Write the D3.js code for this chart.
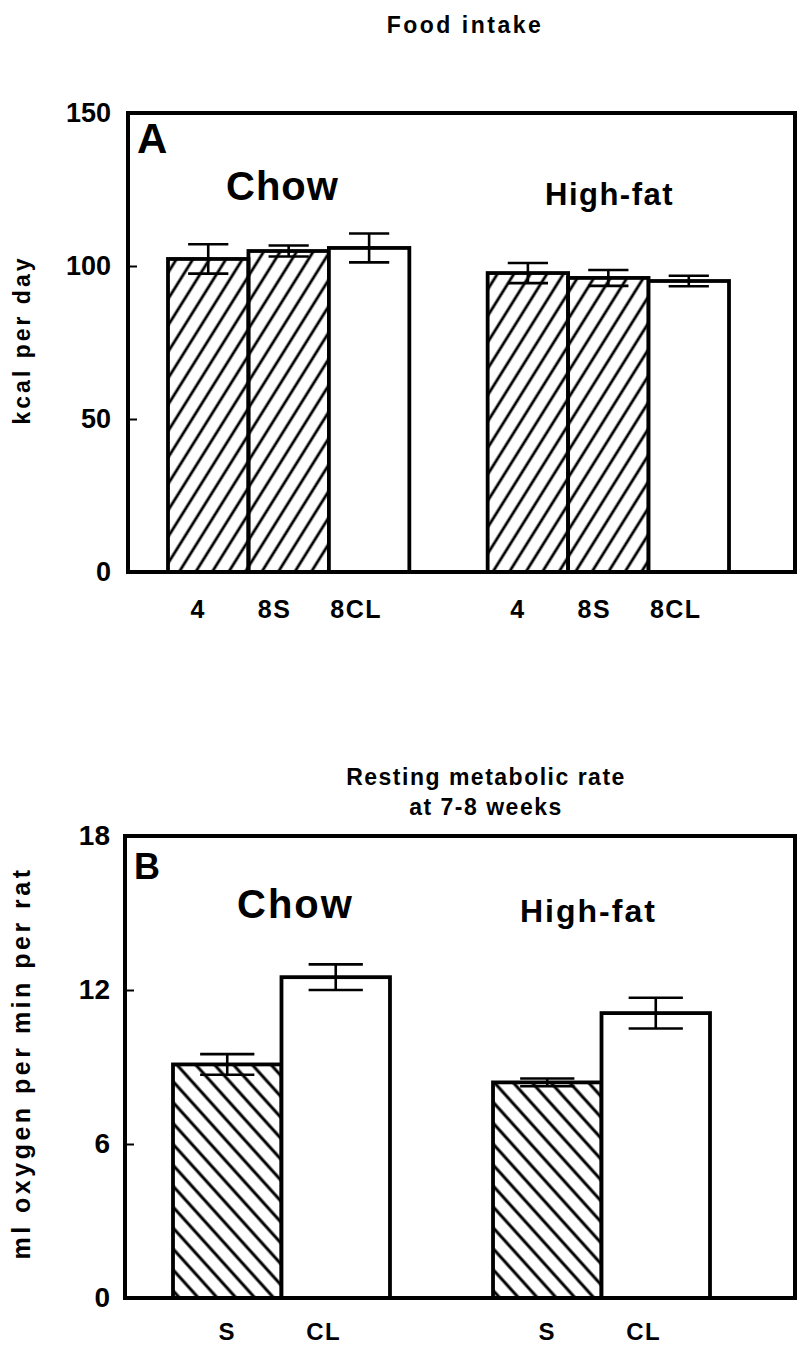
<!DOCTYPE html>
<html>
<head>
<meta charset="utf-8">
<script src="https://cdn.jsdelivr.net/npm/d3@7"></script>
<style>
  body { margin: 0; background: #fff; }
  text { font-family: "Liberation Sans", Arial, sans-serif; font-weight: bold; fill: #000; }
</style>
</head>
<body>
<div id="chart"></div>
<script>
// Panel A: food intake (kcal per day)
const foodGroups = ["Chow", "High-fat"];
const foodCats = ["4", "8S", "8CL"];
const foodChow = [102.3, 104.9, 105.9];
const foodChowErr = [4.8, 1.8, 4.7];
const foodHF = [97.7, 96.1, 95.1];
const foodHFErr = [3.3, 2.6, 1.7];
const foodHatched = [true, true, false];
const foodTicks = [0, 50, 100, 150];

// Panel B: resting metabolic rate (ml oxygen per min per rat)
const rmrGroups = ["Chow", "High-fat"];
const rmrCats = ["S", "CL"];
const rmrChow = [9.1, 12.5];
const rmrChowErr = [0.4, 0.5];
const rmrHF = [8.4, 11.1];
const rmrHFErr = [0.15, 0.6];
const rmrHatched = [true, false];
const rmrTicks = [0, 6, 12, 18];

const W = 801, H = 1349;

const svg = d3.select("#chart")
    .append("svg")
    .attr("width", W)
    .attr("height", H);

// hatch patterns
const defs = svg.append("defs");
defs.append("pattern")
    .attr("id", "hatchA")
    .attr("patternUnits", "userSpaceOnUse")
    .attr("width", 14).attr("height", 14)
    .attr("patternTransform", "rotate(32)")
    .append("line")
    .attr("x1", 7).attr("y1", -2).attr("x2", 7).attr("y2", 16)
    .attr("stroke", "#000").attr("stroke-width", 2.8);
defs.append("pattern")
    .attr("id", "hatchB")
    .attr("patternUnits", "userSpaceOnUse")
    .attr("width", 14).attr("height", 14)
    .attr("patternTransform", "rotate(-42)")
    .append("line")
    .attr("x1", 7).attr("y1", -2).attr("x2", 7).attr("y2", 16)
    .attr("stroke", "#000").attr("stroke-width", 3);

function drawPanel(cfg) {
    const g = svg.append("g");

    const y = d3.scaleLinear()
        .domain([cfg.ticks[0], cfg.ticks[cfg.ticks.length - 1]])
        .range([cfg.bottom, cfg.top]);

    const x0 = d3.scaleBand()
        .domain(cfg.groups)
        .range(cfg.barRange)
        .paddingInner(cfg.gap)
        .paddingOuter(0);

    const x1 = d3.scaleBand()
        .domain(cfg.cats)
        .range([0, x0.bandwidth()]);

    const rows = [];
    cfg.groups.forEach((grp, gi) => {
        cfg.cats.forEach((c, ci) => {
            rows.push({ group: grp, cat: c, v: cfg.means[gi][ci], e: cfg.errs[gi][ci], hatched: cfg.hatched[ci] });
        });
    });

    // bars
    g.selectAll("rect.bar")
        .data(rows)
        .join("rect")
        .attr("class", "bar")
        .attr("x", d => x0(d.group) + x1(d.cat))
        .attr("y", d => y(d.v))
        .attr("width", x1.bandwidth())
        .attr("height", d => y(0) - y(d.v))
        .attr("fill", d => d.hatched ? `url(#${cfg.pattern})` : "#fff")
        .attr("stroke", "#000")
        .attr("stroke-width", 3.8);

    // error bars
    const capW = x1.bandwidth() / 2;
    const eb = g.selectAll("g.err")
        .data(rows)
        .join("g")
        .attr("class", "err")
        .attr("transform", d => `translate(${x0(d.group) + x1(d.cat) + x1.bandwidth() / 2},0)`);
    eb.append("line")
        .attr("y1", d => y(d.v - d.e)).attr("y2", d => y(d.v + d.e))
        .attr("stroke", "#000").attr("stroke-width", 2.6);
    eb.append("line")
        .attr("x1", -capW / 2).attr("x2", capW / 2)
        .attr("y1", d => y(d.v + d.e)).attr("y2", d => y(d.v + d.e))
        .attr("stroke", "#000").attr("stroke-width", 2.6);
    eb.append("line")
        .attr("x1", -capW / 2).attr("x2", capW / 2)
        .attr("y1", d => y(d.v - d.e)).attr("y2", d => y(d.v - d.e))
        .attr("stroke", "#000").attr("stroke-width", 2.6);

    // frame
    g.append("rect")
        .attr("x", cfg.left).attr("y", cfg.top)
        .attr("width", cfg.right - cfg.left)
        .attr("height", cfg.bottom - cfg.top)
        .attr("fill", "none")
        .attr("stroke", "#000")
        .attr("stroke-width", 4);

    // y axis
    const ax = g.append("g")
        .attr("transform", `translate(${cfg.left},0)`)
        .call(d3.axisLeft(y).tickValues(cfg.ticks).tickSize(-9).tickPadding(cfg.tickPad));
    ax.select(".domain").remove();
    ax.selectAll(".tick line").attr("stroke", "#000").attr("stroke-width", 2);
    ax.selectAll(".tick text")
        .attr("fill", "#000")
        .style("font-size", cfg.tickFont + "px")
        .style("font-family", '"Liberation Sans", Arial, sans-serif')
        .style("font-weight", "bold");

    // category labels
    g.selectAll("text.cat")
        .data(rows)
        .join("text")
        .attr("class", "cat")
        .attr("x", d => x0(d.group) + x1(d.cat) + x1.bandwidth() / 2 + cfg.catShift[cfg.cats.indexOf(d.cat)])
        .attr("y", cfg.catY)
        .attr("text-anchor", "middle")
        .style("font-size", cfg.catFont + "px")
        .style("letter-spacing", "1.5px")
        .text(d => d.cat);

    // group labels
    cfg.groupLabels.forEach(l => {
        g.append("text")
            .attr("x", l.x).attr("y", l.y)
            .style("font-size", l.size + "px")
            .style("letter-spacing", l.ls + "px")
            .text(l.text);
    });

    // panel letter
    g.append("text")
        .attr("x", cfg.letter.x).attr("y", cfg.letter.y)
        .style("font-size", cfg.letter.size + "px")
        .text(cfg.letter.text);

    // y axis title
    g.append("text")
        .attr("transform", `translate(${cfg.yTitle.x},${cfg.yTitle.y}) rotate(-90)`)
        .attr("text-anchor", "middle")
        .style("font-size", cfg.yTitle.size + "px")
        .style("letter-spacing", cfg.yTitle.ls + "px")
        .text(cfg.yTitle.text);

    // panel title lines
    cfg.title.lines.forEach((t, i) => {
        g.append("text")
            .attr("x", cfg.title.x)
            .attr("y", cfg.title.y + i * 30)
            .attr("text-anchor", "middle")
            .style("font-size", cfg.title.size + "px")
            .style("letter-spacing", cfg.title.ls + "px")
            .text(t);
    });
}

drawPanel({
    groups: foodGroups, cats: foodCats,
    means: [foodChow, foodHF], errs: [foodChowErr, foodHFErr],
    hatched: foodHatched, pattern: "hatchA", ticks: foodTicks,
    left: 128, right: 795, top: 113, bottom: 572,
    barRange: [168, 729], gap: 0.245,
    tickPad: 17, tickFont: 27,
    catY: 618, catFont: 25, catShift: [-10, -14, -13],
    groupLabels: [
        { text: "Chow", x: 226, y: 200, size: 40, ls: 1 },
        { text: "High-fat", x: 545, y: 205, size: 31, ls: 1.5 }
    ],
    letter: { text: "A", x: 137, y: 153, size: 42 },
    yTitle: { text: "kcal per day", x: 30, y: 340, size: 23, ls: 3 },
    title: { lines: ["Food intake"], x: 465, y: 33, size: 23, ls: 2.5 }
});

drawPanel({
    groups: rmrGroups, cats: rmrCats,
    means: [rmrChow, rmrHF], errs: [rmrChowErr, rmrHFErr],
    hatched: rmrHatched, pattern: "hatchB", ticks: rmrTicks,
    left: 125, right: 795, top: 836, bottom: 1298,
    barRange: [173, 710], gap: 0.322,
    tickPad: 15, tickFont: 28,
    catY: 1340, catFont: 24, catShift: [0, -12],
    groupLabels: [
        { text: "Chow", x: 237, y: 918, size: 40, ls: 2 },
        { text: "High-fat", x: 520, y: 922, size: 32, ls: 2 }
    ],
    letter: { text: "B", x: 134, y: 879, size: 36 },
    yTitle: { text: "ml oxygen per min per rat", x: 30, y: 1063, size: 25, ls: 3.5 },
    title: { lines: ["Resting metabolic rate", "at 7-8 weeks"], x: 486, y: 785, size: 23, ls: 1.5 }
});
</script>
</body>
</html>
